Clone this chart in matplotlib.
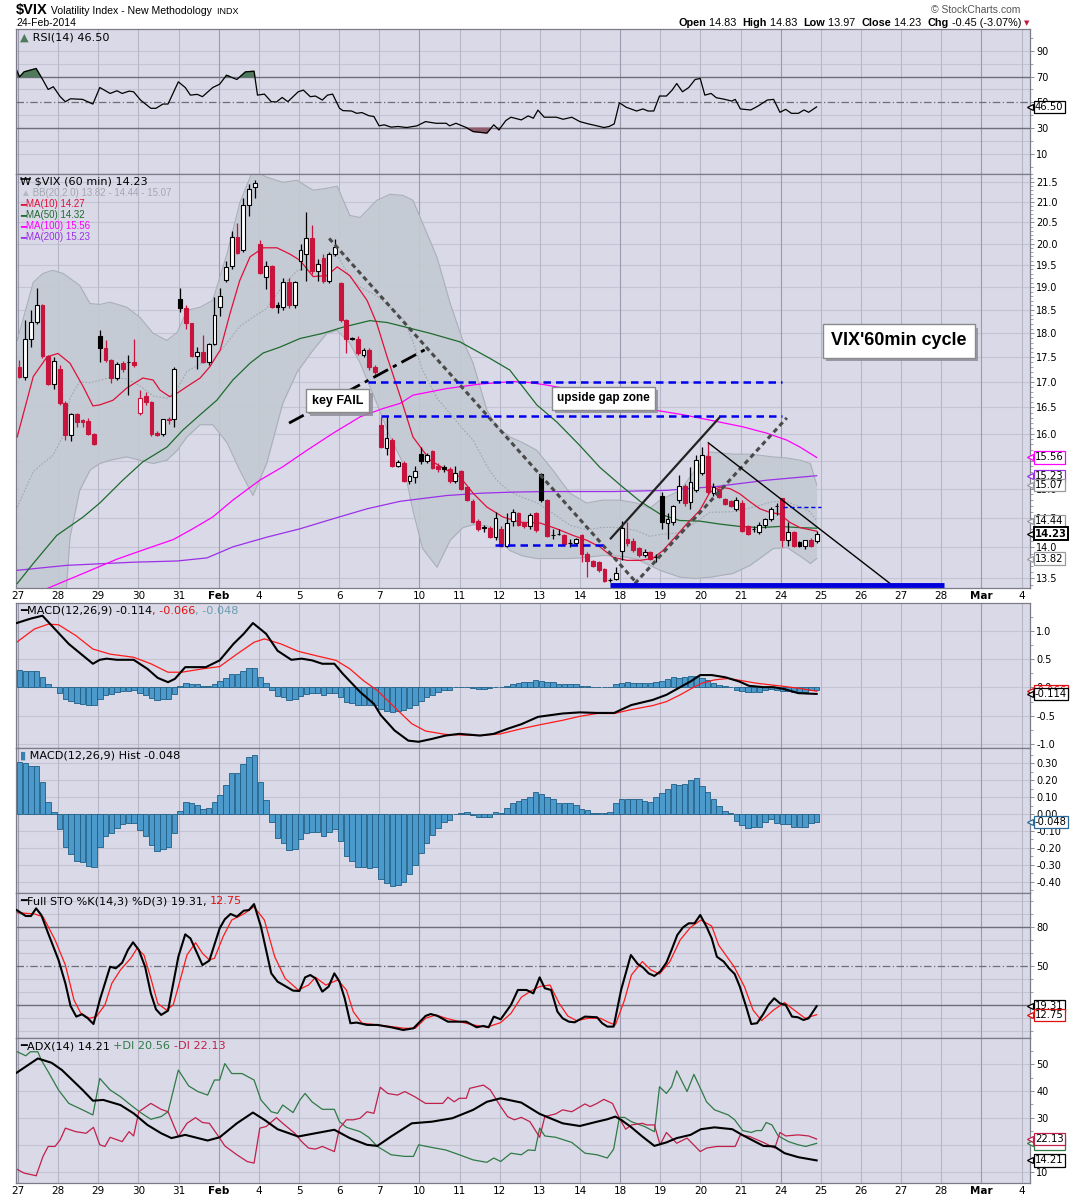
import matplotlib
matplotlib.use('Agg')
import numpy as np
import matplotlib.pyplot as plt
import matplotlib.patheffects as pe
import matplotlib.transforms as mtransforms
from matplotlib.offsetbox import TextArea, HPacker, AnnotationBbox
from matplotlib.ticker import FixedLocator, FixedFormatter, NullFormatter

plt.rcParams['font.family'] = ['DejaVu Sans']

# ---------------- data (x in hourly bars, 7 bars per session) ----------------
day_labels = ['27', '28', '29', '30', '31', 'Feb', '4', '5', '6', '7', '10', '11', '12',
              '13', '14', '18', '19', '20', '21', '24', '25', '26', '27', '28', 'Mar', '4']
week_start_days = [0, 5, 10, 15, 19, 24]

opens = [
    17.30, 17.10, 17.89, 18.24, 18.60, 17.53, 16.97,
    17.27, 16.58, 15.97, 16.38, 16.25, 16.24, 16.00,
    17.94, 17.70, 17.44, 17.09, 17.38, 17.40, 17.40,
    16.40, 16.72, 16.60, 16.02, 15.99, 16.27, 16.27,
    18.73, 18.55, 18.21, 17.53, 17.60, 17.40, 17.78,
    18.57, 19.17, 19.47, 20.16, 19.84, 20.93, 21.37,
    19.99, 19.23, 19.49, 18.60, 18.57, 19.11, 18.60,
    19.60, 19.76, 20.12, 19.36, 19.66, 19.15, 19.75,
    19.10, 18.28, 17.89, 17.89, 17.55, 17.66, 17.31,
    16.17, 15.74, 15.89, 15.41, 15.46, 15.14, 15.20,
    15.62, 15.50, 15.67, 15.40, 15.38, 15.35, 15.13,
    15.31, 15.03, 14.79, 14.45, 14.33, 14.33, 14.17,
    14.31, 14.03, 14.45, 14.58, 14.40, 14.36, 14.57,
    15.26, 14.81, 14.21, 14.22, 14.21, 14.07, 14.07,
    14.21, 13.89, 13.78, 13.76, 13.65, 13.47, 13.49,
    13.95, 14.14, 14.10, 13.99, 13.88, 13.93, 13.85,
    14.87, 14.40, 14.42, 14.80, 15.05, 14.77, 14.97,
    15.28, 15.58, 14.93, 15.00, 14.82, 14.78, 14.65,
    14.75, 14.35, 14.31, 14.25, 14.38, 14.48, 14.69,
    14.83, 14.12, 14.25, 14.09, 14.03, 14.13, 14.10,
]
highs = [
    17.44, 18.28, 18.49, 18.99, 18.64, 17.55, 17.50,
    17.35, 16.62, 16.40, 16.40, 16.28, 16.30, 16.02,
    18.06, 17.86, 17.46, 17.40, 17.42, 17.55, 17.88,
    16.85, 16.80, 16.62, 16.05, 16.28, 16.32, 17.30,
    18.99, 18.60, 18.22, 17.71, 17.97, 17.80, 18.78,
    18.99, 19.60, 20.30, 20.48, 21.10, 21.45, 21.55,
    20.09, 19.60, 19.50, 18.67, 19.20, 19.20, 19.15,
    19.99, 20.76, 20.45, 19.65, 19.75, 19.80, 20.10,
    19.12, 18.30, 17.92, 17.95, 17.70, 17.70, 17.35,
    16.32, 16.32, 15.92, 15.52, 15.50, 15.25, 15.40,
    15.76, 15.65, 15.70, 15.45, 15.42, 15.38, 15.40,
    15.33, 15.05, 14.82, 14.48, 14.38, 14.35, 14.60,
    14.35, 14.57, 14.65, 14.60, 14.42, 14.58, 14.60,
    15.27, 14.82, 14.30, 14.30, 14.23, 14.14, 14.16,
    14.22, 13.92, 13.80, 13.78, 13.66, 13.50, 13.69,
    14.45, 14.42, 14.15, 14.00, 13.98, 13.95, 13.90,
    14.95, 14.57, 14.72, 15.25, 15.08, 15.39, 15.60,
    15.75, 15.83, 15.10, 15.02, 14.84, 14.80, 14.85,
    14.80, 14.38, 14.36, 14.42, 14.50, 14.68, 14.75,
    14.83, 14.42, 14.27, 14.11, 14.13, 14.15, 14.28,
]
lows = [
    17.08, 17.05, 17.72, 18.20, 17.48, 16.95, 16.86,
    16.55, 15.88, 15.86, 16.12, 16.12, 15.98, 15.78,
    17.41, 17.40, 16.98, 17.05, 17.20, 16.75, 17.30,
    16.35, 16.55, 15.95, 15.95, 15.96, 16.18, 16.13,
    18.45, 18.10, 17.50, 17.27, 17.38, 17.35, 17.75,
    18.37, 19.12, 19.40, 19.75, 19.80, 20.65, 21.10,
    19.30, 18.95, 18.55, 18.43, 18.50, 18.55, 18.55,
    19.38, 19.15, 19.30, 19.15, 19.10, 19.10, 19.70,
    18.25, 17.58, 17.85, 17.55, 17.50, 17.25, 17.10,
    15.74, 15.60, 15.38, 15.38, 15.12, 15.08, 15.10,
    15.44, 15.45, 15.35, 15.30, 15.30, 15.10, 15.10,
    14.98, 14.78, 14.40, 14.28, 14.26, 14.15, 14.12,
    14.00, 14.00, 14.36, 14.36, 14.33, 14.30, 14.26,
    14.77, 14.18, 14.14, 14.20, 14.03, 14.00, 14.04,
    13.76, 13.52, 13.68, 13.60, 13.45, 13.44, 13.47,
    13.80, 14.02, 13.93, 13.85, 13.84, 13.79, 13.76,
    14.30, 14.14, 14.38, 14.75, 14.70, 14.65, 14.95,
    15.25, 14.90, 14.88, 14.84, 14.72, 14.68, 14.62,
    14.25, 14.20, 14.25, 14.22, 14.33, 14.45, 14.55,
    14.00, 14.03, 14.00, 14.01, 13.97, 14.01, 14.07,
]
closes = [
    17.10, 17.89, 18.24, 18.60, 17.53, 16.97, 17.43,
    16.58, 15.97, 16.38, 16.23, 16.22, 16.00, 15.80,
    17.70, 17.44, 17.09, 17.37, 17.26, 17.40, 17.35,
    16.69, 16.60, 16.00, 15.98, 16.27, 16.25, 17.27,
    18.55, 18.21, 17.53, 17.60, 17.40, 17.78, 18.40,
    18.80, 19.45, 20.15, 19.78, 20.93, 21.32, 21.46,
    19.32, 19.49, 18.57, 18.57, 19.11, 18.60, 19.11,
    19.86, 20.12, 19.36, 19.53, 19.15, 19.75, 19.93,
    18.28, 17.89, 17.89, 17.59, 17.66, 17.31, 17.21,
    15.75, 15.91, 15.41, 15.47, 15.14, 15.22, 15.31,
    15.50, 15.60, 15.37, 15.35, 15.35, 15.13, 15.27,
    15.00, 14.80, 14.42, 14.31, 14.33, 14.17, 14.50,
    14.03, 14.40, 14.60, 14.38, 14.36, 14.55, 14.29,
    14.81, 14.19, 14.21, 14.22, 14.05, 14.07, 14.14,
    13.89, 13.78, 13.70, 13.64, 13.46, 13.47, 13.59,
    14.33, 14.07, 13.96, 13.88, 13.93, 13.81, 13.84,
    14.42, 14.48, 14.70, 15.05, 14.75, 15.12, 15.51,
    15.61, 14.94, 15.03, 14.86, 14.74, 14.70, 14.80,
    14.28, 14.22, 14.31, 14.38, 14.47, 14.65, 14.69,
    14.13, 14.25, 14.03, 14.03, 14.12, 14.03, 14.23,
]

# moving averages: (bar, value)
ma10_pts = [(-0.4, 15.94), (2.4, 17.11), (4.8, 17.51), (6.7, 17.58), (8.8, 17.38), (11.1, 16.91),
            (12.8, 16.53), (14.0, 16.55), (16.3, 16.64), (18.7, 16.88), (21.5, 17.08), (23.3, 17.04),
            (24.5, 16.84), (26.2, 16.71), (27.5, 16.78), (29.2, 16.91), (31.5, 17.08), (33.2, 17.31),
            (35.0, 17.65), (36.7, 18.42), (38.4, 19.15), (40.2, 19.69), (42.5, 19.90), (44.9, 19.90),
            (47.2, 19.75), (48.9, 19.61), (51.2, 19.24), (53.6, 19.26), (55.4, 19.46), (57.6, 19.26),
            (60.6, 18.71), (62.3, 18.21), (64.1, 17.51), (66.4, 16.71), (68.6, 15.94), (71.6, 15.51),
            (74.5, 15.33), (76.8, 15.21), (79.1, 14.92), (81.5, 14.68), (84.3, 14.51), (87.3, 14.42),
            (90.7, 14.41), (93.7, 14.31), (96.5, 14.20), (98.9, 14.12), (101.2, 14.01), (103.5, 13.84),
            (105.9, 13.79), (108.2, 13.79), (110.4, 13.82), (112.2, 13.95), (114.6, 14.20), (116.4, 14.40),
            (118.6, 14.62), (120.4, 14.94), (122.1, 15.03), (123.9, 15.00), (125.6, 14.91), (127.4, 14.77),
            (129.1, 14.65), (130.8, 14.59), (132.6, 14.56), (134.3, 14.42), (136.1, 14.33), (139.0, 14.27)]
ma50_pts = [(-0.4, 13.42), (2.4, 13.74), (6.5, 14.20), (11.1, 14.51), (14.0, 14.75), (18.0, 15.15),
            (21.5, 15.48), (25.7, 15.75), (28.5, 16.07), (31.5, 16.36), (34.4, 16.64), (37.2, 17.04),
            (40.2, 17.38), (42.5, 17.59), (45.4, 17.71), (48.9, 17.89), (52.9, 18.00), (56.4, 18.13),
            (61.1, 18.27), (64.1, 18.23), (66.4, 18.16), (71.6, 18.00), (76.8, 17.82), (82.0, 17.48),
            (85.5, 17.24), (90.2, 16.55), (93.7, 16.22), (97.7, 15.78), (101.2, 15.38), (104.7, 15.07),
            (108.2, 14.78), (111.7, 14.56), (115.1, 14.45), (118.6, 14.44), (122.1, 14.39), (125.6, 14.35),
            (129.1, 14.33), (132.6, 14.35), (136.1, 14.33), (139.0, 14.32)]
ma100_pts = [(4.5, 13.33), (11.1, 13.58), (17.0, 13.81), (22.8, 14.00), (26.8, 14.13), (30.2, 14.31),
             (33.7, 14.51), (37.2, 14.80), (41.9, 15.15), (45.9, 15.39), (50.1, 15.69), (54.7, 16.01),
             (59.4, 16.32), (63.4, 16.48), (66.4, 16.58), (68.6, 16.74), (74.5, 16.87), (80.3, 16.96),
             (86.0, 17.01), (89.0, 16.99), (91.9, 16.94), (97.7, 16.82), (103.5, 16.62), (109.6, 16.47),
             (115.7, 16.36), (121.6, 16.23), (126.1, 16.13), (130.3, 16.01), (133.8, 15.88), (136.1, 15.75),
             (139.0, 15.56)]
ma200_pts = [(-0.4, 13.63), (8.3, 13.71), (19.8, 13.76), (27.5, 13.78), (32.7, 13.83), (37.2, 14.01),
             (43.1, 14.17), (48.9, 14.31), (54.7, 14.48), (60.6, 14.65), (66.4, 14.78), (74.5, 14.88),
             (80.3, 14.92), (86.0, 14.94), (91.9, 14.95), (103.5, 14.95), (112.8, 14.97), (121.6, 15.04),
             (130.3, 15.15), (139.0, 15.23)]

# Bollinger bands (20, 2.0)
bb_x = [-0.4, 2.4, 4.1, 5.8, 7.6, 8.8, 10.5, 12.3, 14.0, 15.8,
        18.7, 21.0, 23.3, 25.7, 27.5, 29.2, 31.5, 33.7, 36.2, 38.4,
        40.7, 43.1, 45.9, 48.4, 51.2, 53.6, 55.4, 57.6, 59.4, 62.3,
        64.6, 66.9, 68.6, 70.3, 72.8, 75.1, 77.3, 79.1, 81.5, 83.2,
        85.5, 87.8, 90.2, 93.0, 96.0, 98.9, 101.7, 104.7, 107.6, 109.9,
        111.7, 115.2, 117.8, 120.4, 124.4, 127.4, 131.4, 133.8, 136.1, 137.9,
        139.0]
bb_upper = [17.85, 19.11, 19.31, 19.38, 19.31, 19.20, 19.04, 18.64, 18.62, 18.67,
            18.56, 18.34, 18.00, 17.85, 18.02, 18.49, 18.56, 18.71, 19.77, 20.97,
            21.80, 21.62, 21.49, 21.54, 21.29, 21.34, 21.39, 20.67, 20.62, 21.04,
            21.19, 21.16, 21.04, 20.48, 19.68, 18.64, 17.85, 17.38, 16.45, 16.13,
            15.94, 15.83, 15.69, 15.33, 14.92, 14.75, 14.80, 14.80, 14.75, 14.66,
            14.80, 14.97, 15.33, 15.66, 15.62, 15.62, 15.57, 15.55, 15.51, 15.45,
            15.07]
bb_lower = [11.50, 11.50, 11.60, 11.80, 12.60, 14.17, 14.97, 15.33, 15.45, 15.51,
            15.57, 15.51, 15.45, 15.51, 15.69, 15.94, 16.17, 16.17, 15.83, 15.33,
            14.88, 15.45, 16.58, 17.20, 17.65, 18.00, 18.06, 17.79, 17.38, 16.58,
            15.94, 15.45, 14.62, 13.98, 13.68, 14.12, 14.33, 14.38, 14.36, 14.17,
            13.95, 13.86, 13.82, 13.82, 13.82, 13.84, 13.87, 13.86, 13.81, 13.71,
            13.63, 13.52, 13.50, 13.52, 13.58, 13.71, 13.98, 14.00, 13.86, 13.74,
            13.82]

rsi_pts = [(-0.5, 74.9), (0.0, 69.7), (0.8, 73.6), (2.9, 76.2), (4.1, 67.2), (5.0, 60.0), (5.9, 62.1),
           (7.1, 54.4), (8.0, 50.5), (8.9, 52.8), (11.0, 52.3), (12.8, 48.7), (14.0, 61.5), (15.8, 56.9),
           (17.0, 59.0), (17.9, 56.9), (19.1, 58.7), (19.9, 58.2), (21.1, 51.8), (22.9, 45.4), (23.8, 45.4),
           (25.0, 48.7), (25.9, 48.7), (27.7, 65.9), (28.9, 61.5), (29.8, 55.6), (31.0, 56.2), (31.9, 54.4),
           (33.7, 61.5), (34.9, 64.1), (36.1, 71.0), (37.9, 67.7), (39.4, 73.6), (40.9, 74.1), (41.5, 55.6),
           (42.7, 56.4), (43.9, 50.5), (44.8, 50.3), (45.8, 53.8), (46.8, 50.5), (47.7, 54.4), (48.6, 58.2),
           (49.5, 59.5), (50.7, 54.4), (51.6, 54.9), (52.8, 51.8), (53.7, 55.6), (54.6, 56.4), (55.8, 45.4),
           (56.4, 43.6), (57.9, 43.3), (58.8, 41.5), (59.7, 42.1), (60.9, 39.7), (61.8, 39.0), (62.7, 31.8),
           (63.6, 32.6), (64.8, 30.8), (66.0, 31.3), (67.5, 30.5), (69.3, 31.8), (70.8, 35.1), (72.6, 33.8),
           (74.4, 33.8), (75.0, 31.8), (76.1, 33.8), (77.9, 30.5), (79.1, 27.4), (81.5, 26.2), (82.7, 32.6),
           (83.6, 28.7), (84.8, 35.9), (85.7, 38.5), (87.5, 36.4), (88.7, 39.5), (89.6, 37.7), (90.4, 44.0),
           (91.5, 38.5), (93.6, 38.5), (94.8, 36.9), (96.3, 38.5), (97.7, 35.1), (99.2, 33.3), (100.7, 31.8),
           (101.9, 30.5), (102.8, 31.3), (103.7, 33.3), (104.6, 49.7), (105.8, 46.2), (107.6, 43.3),
           (108.7, 44.9), (109.6, 43.3), (110.6, 43.3), (111.6, 54.9), (112.8, 54.9), (113.8, 59.5),
           (114.6, 64.6), (115.6, 58.2), (116.7, 61.5), (117.8, 67.7), (118.7, 68.5), (119.5, 55.6),
           (120.6, 56.9), (121.5, 53.6), (122.7, 52.6), (124.2, 51.0), (124.8, 52.3), (125.7, 44.9),
           (127.5, 44.1), (128.8, 47.2), (130.4, 51.8), (131.5, 52.3), (132.6, 42.3), (133.6, 44.6),
           (134.6, 41.5), (135.8, 41.5), (136.8, 44.1), (137.6, 42.3), (139.0, 46.5)]

macd_pts = [(-0.5, 1.14), (2.0, 1.22), (4.0, 1.27), (8.6, 0.77), (12.8, 0.42), (14.0, 0.49), (15.2, 0.51),
            (17.0, 0.49), (19.9, 0.49), (22.3, 0.33), (24.1, 0.17), (25.9, 0.094), (27.1, 0.153),
            (28.9, 0.36), (32.5, 0.36), (34.9, 0.48), (37.3, 0.77), (39.1, 0.95), (40.7, 1.14), (43.0, 0.95),
            (45.0, 0.65), (47.4, 0.49), (49.2, 0.51), (51.0, 0.48), (52.8, 0.42), (54.9, 0.42), (56.4, 0.24),
            (59.4, -0.08), (61.8, -0.29), (63.0, -0.49), (65.4, -0.76), (67.8, -0.94), (69.6, -0.96),
            (71.9, -0.91), (74.3, -0.85), (76.7, -0.82), (80.3, -0.85), (82.7, -0.82), (85.1, -0.73),
            (87.5, -0.65), (90.4, -0.52), (94.7, -0.46), (97.7, -0.44), (100.7, -0.45), (103.7, -0.45),
            (105.5, -0.365), (106.7, -0.31), (110.4, -0.22), (112.8, -0.13), (115.2, 0.006), (117.0, 0.106),
            (118.7, 0.22), (120.7, 0.22), (123.1, 0.18), (125.5, 0.106), (127.2, 0.03), (129.7, 0.006),
            (131.5, 0.006), (133.4, -0.03), (135.8, -0.10), (139.0, -0.114)]
signal_pts = [(-0.5, 0.80), (2.6, 1.035), (5.0, 1.12), (6.8, 1.11), (9.8, 0.92), (12.8, 0.68), (15.8, 0.59),
              (19.9, 0.535), (22.9, 0.42), (25.9, 0.27), (28.3, 0.27), (31.9, 0.33), (34.9, 0.37),
              (37.9, 0.59), (40.9, 0.80), (42.7, 0.86), (45.6, 0.77), (48.6, 0.64), (51.6, 0.565),
              (55.2, 0.48), (57.6, 0.33), (60.0, 0.12), (62.4, -0.053), (65.4, -0.35), (68.4, -0.64),
              (70.8, -0.77), (74.3, -0.83), (80.3, -0.85), (83.9, -0.82), (87.5, -0.73), (90.7, -0.66),
              (94.7, -0.58), (97.7, -0.51), (100.7, -0.46), (103.7, -0.46), (106.7, -0.39), (110.4, -0.32),
              (112.8, -0.25), (115.2, -0.13), (117.6, 0.006), (119.0, 0.076), (121.2, 0.135), (123.6, 0.16),
              (126.0, 0.12), (128.5, 0.076), (130.9, 0.047), (133.4, 0.018), (135.8, -0.012), (139.0, -0.066)]
hist = [
    0.306, 0.300, 0.286, 0.286, 0.187, 0.069, 0.010, -0.091, -0.197, -0.239,
    -0.276, -0.286, -0.306, -0.312, -0.197, -0.130, -0.110, -0.085, -0.059, -0.055,
    -0.051, -0.095, -0.130, -0.183, -0.217, -0.209, -0.197, -0.114, 0.018, 0.073,
    0.063, 0.053, 0.030, 0.034, 0.069, 0.112, 0.172, 0.241, 0.241, 0.296,
    0.339, 0.349, 0.187, 0.083, -0.049, -0.144, -0.170, -0.213, -0.209, -0.150,
    -0.114, -0.105, -0.105, -0.128, -0.105, -0.091, -0.160, -0.249, -0.278, -0.316,
    -0.316, -0.318, -0.312, -0.387, -0.410, -0.426, -0.420, -0.400, -0.355, -0.302,
    -0.233, -0.174, -0.124, -0.085, -0.049, -0.036, 0.000, 0.008, 0.010, -0.006,
    -0.020, -0.020, -0.016, 0.010, 0.004, 0.034, 0.067, 0.077, 0.089, 0.103,
    0.132, 0.116, 0.103, 0.089, 0.067, 0.067, 0.067, 0.053, 0.028, 0.024,
    0.008, 0.004, 0.004, 0.010, 0.063, 0.087, 0.089, 0.087, 0.087, 0.079,
    0.073, 0.103, 0.122, 0.146, 0.178, 0.172, 0.178, 0.201, 0.211, 0.166,
    0.132, 0.087, 0.049, 0.020, 0.004, -0.039, -0.065, -0.085, -0.079, -0.075,
    -0.045, -0.032, -0.051, -0.059, -0.059, -0.079, -0.075, -0.075, -0.051, -0.048,
]

stok_pts = [(-0.5, 93.3), (1.1, 88.7), (2.0, 88.7), (2.9, 94.6), (3.8, 89.5), (5.0, 75.4), (6.8, 54.9),
            (8.0, 36.9), (8.9, 19.5), (9.9, 11.3), (10.9, 13.1), (11.9, 10.0), (12.9, 5.6), (14.0, 24.1),
            (15.8, 49.7), (16.8, 48.5), (17.9, 52.8), (18.9, 62.6), (19.8, 68.5), (20.8, 62.6), (21.9, 49.7),
            (22.9, 29.2), (23.8, 16.9), (24.7, 12.6), (25.9, 15.9), (27.7, 57.4), (28.9, 74.6), (29.8, 71.5),
            (31.9, 51.0), (33.1, 54.4), (34.9, 79.2), (35.8, 86.2), (36.8, 90.3), (37.9, 88.2), (39.1, 92.8),
            (40.0, 93.3), (40.9, 97.9), (42.1, 80.5), (43.9, 44.6), (45.0, 38.2), (46.3, 34.9), (47.7, 31.3),
            (48.8, 31.0), (49.8, 41.5), (50.7, 43.3), (51.6, 40.8), (52.8, 30.5), (53.9, 34.4), (54.9, 44.6),
            (55.8, 38.2), (56.7, 25.4), (57.7, 6.2), (58.8, 6.7), (60.6, 4.9), (62.4, 4.9), (64.8, 3.1),
            (66.9, 1.0), (68.7, 2.3), (70.8, 11.8), (71.7, 13.3), (72.9, 11.8), (74.7, 7.4), (75.8, 7.4),
            (77.9, 7.4), (79.7, 3.1), (80.9, 4.1), (81.8, 3.1), (82.7, 11.3), (83.9, 9.2), (85.7, 20.3),
            (86.9, 31.8), (88.4, 31.8), (89.6, 29.2), (90.7, 41.5), (91.6, 33.1), (92.7, 31.8), (93.8, 15.1),
            (94.7, 10.0), (95.8, 7.4), (96.8, 6.9), (98.6, 11.3), (100.7, 10.8), (101.6, 6.2), (102.5, 3.6),
            (103.6, 3.6), (104.9, 31.8), (106.6, 58.7), (107.8, 51.8), (108.7, 49.2), (109.7, 44.6),
            (110.7, 42.6), (111.7, 45.9), (112.8, 52.8), (113.7, 62.6), (114.7, 74.1), (115.7, 80.0),
            (116.7, 83.1), (117.7, 83.1), (118.7, 89.5), (119.8, 80.5), (120.7, 71.5), (121.6, 57.4),
            (122.8, 53.6), (123.7, 48.5), (124.7, 44.1), (125.6, 34.4), (126.7, 19.0), (127.6, 5.6),
            (128.6, 6.2), (129.7, 13.3), (130.6, 20.3), (131.6, 25.4), (132.6, 21.5), (133.6, 20.3),
            (134.7, 11.3), (135.7, 10.8), (136.7, 8.7), (137.6, 10.0), (139.0, 19.31)]
stod_pts = [(-0.5, 91.3), (2.6, 90.3), (4.1, 88.2), (6.2, 70.3), (8.0, 51.0), (9.5, 24.1), (10.7, 13.8),
            (12.2, 10.0), (13.4, 11.3), (14.9, 20.3), (16.1, 36.9), (17.6, 47.2), (19.4, 56.2), (20.5, 63.8),
            (21.7, 58.7), (22.9, 40.8), (24.1, 21.5), (25.6, 16.4), (26.8, 20.3), (27.7, 34.4), (29.2, 58.7),
            (30.7, 68.2), (31.9, 60.0), (33.1, 54.9), (34.0, 56.2), (35.5, 72.8), (37.0, 85.6), (39.1, 90.3),
            (40.9, 95.9), (42.7, 85.6), (44.5, 57.4), (46.3, 40.8), (48.6, 31.8), (50.4, 35.6), (51.6, 41.5),
            (53.4, 35.6), (55.5, 39.5), (57.0, 31.8), (58.2, 15.1), (59.7, 6.2), (62.4, 4.9), (64.8, 3.6),
            (67.2, 2.3), (69.0, 2.3), (70.8, 10.0), (72.6, 12.6), (74.4, 10.0), (76.7, 7.4), (79.1, 4.9),
            (81.5, 3.1), (83.9, 6.7), (85.7, 13.8), (87.5, 26.2), (89.3, 31.3), (90.7, 34.4), (92.5, 35.6),
            (94.1, 21.5), (95.6, 11.8), (97.1, 8.2), (99.2, 10.0), (101.3, 10.0), (102.8, 6.7), (103.9, 4.9),
            (105.5, 24.1), (106.7, 43.3), (108.6, 53.6), (110.1, 47.2), (111.6, 44.1), (113.4, 53.6),
            (115.2, 70.3), (117.0, 80.0), (118.8, 85.6), (120.7, 81.0), (121.9, 66.4), (124.6, 49.7),
            (126.4, 34.4), (127.9, 16.4), (129.4, 8.2), (131.5, 16.4), (133.4, 22.1), (135.2, 15.9),
            (137.0, 10.0), (139.0, 12.75)]

adx_pts = [(-0.5, 46.8), (3.2, 52.1), (5.6, 50.5), (7.4, 47.8), (9.2, 44.1), (11.0, 40.4), (12.8, 36.4),
           (14.6, 36.7), (17.6, 34.8), (19.9, 31.7), (22.3, 27.4), (24.7, 24.3), (26.5, 22.5), (28.9, 23.7),
           (32.8, 21.6), (34.9, 22.8), (37.9, 28.0), (40.7, 32.0), (42.7, 29.3), (45.0, 25.8), (48.6, 23.1),
           (51.6, 24.3), (54.9, 25.6), (57.6, 22.5), (60.6, 20.0), (62.4, 19.6), (64.8, 23.1), (68.4, 28.0),
           (71.9, 28.6), (75.5, 29.9), (79.1, 33.0), (81.5, 36.0), (83.9, 37.3), (87.5, 35.7), (90.7, 31.5),
           (94.7, 28.0), (97.7, 27.0), (100.7, 28.6), (102.5, 29.5), (103.9, 30.5), (104.9, 29.3),
           (106.7, 26.5), (108.6, 23.1), (110.7, 19.6), (112.8, 20.9), (114.6, 22.5), (117.0, 23.7),
           (118.8, 25.8), (121.2, 26.5), (124.3, 25.8), (126.0, 23.7), (129.7, 19.6), (131.6, 19.4),
           (133.4, 16.9), (135.8, 15.4), (139.0, 14.21)]
pdi_pts = [(-0.4, 54.6), (1.1, 53.1), (1.9, 54.6), (3.2, 54.6), (3.8, 51.5), (5.0, 47.2), (6.8, 40.4),
           (8.6, 35.4), (11.0, 33.0), (12.8, 31.1), (14.0, 44.7), (15.8, 40.4), (17.6, 37.9), (19.4, 34.8),
           (21.1, 32.0), (22.9, 29.5), (24.7, 30.5), (25.9, 32.3), (27.7, 47.8), (29.5, 41.9), (31.1, 39.8),
           (32.8, 38.5), (34.0, 44.1), (34.9, 44.1), (35.8, 50.2), (37.0, 46.5), (38.8, 46.5), (40.9, 44.1),
           (42.1, 36.7), (43.9, 32.3), (45.0, 31.7), (45.9, 34.8), (47.7, 32.0), (48.9, 36.7), (49.8, 39.1),
           (51.0, 36.0), (52.8, 33.2), (54.9, 33.2), (55.8, 28.6), (57.0, 26.5), (59.4, 24.9), (60.9, 22.8),
           (62.4, 19.4), (64.8, 16.3), (67.2, 15.7), (68.7, 15.7), (69.6, 20.0), (71.7, 19.1), (74.3, 18.1),
           (76.7, 16.3), (79.1, 14.4), (81.5, 13.5), (82.7, 15.1), (83.9, 13.8), (85.7, 16.9), (87.5, 16.3),
           (88.7, 18.1), (89.9, 17.9), (90.7, 26.2), (91.6, 23.3), (93.5, 22.8), (96.3, 20.9), (98.6, 16.9),
           (100.7, 16.3), (102.5, 15.1), (103.6, 18.4), (104.6, 30.2), (105.5, 30.2), (106.7, 28.6),
           (109.0, 26.8), (110.7, 24.9), (111.6, 41.6), (112.8, 39.1), (113.7, 41.6), (114.6, 47.5),
           (116.4, 39.8), (117.6, 46.2), (119.8, 36.0), (121.2, 33.0), (123.6, 31.1), (124.7, 29.3),
           (126.1, 25.3), (127.6, 24.6), (128.5, 25.3), (129.4, 25.3), (130.2, 28.3), (131.2, 27.4),
           (132.3, 23.3), (134.1, 21.2), (135.8, 20.0), (137.1, 19.4), (139.0, 20.56)]
mdi_pts = [(-0.5, 11.0), (0.8, 9.5), (2.9, 8.5), (4.1, 15.7), (5.0, 19.4), (6.2, 19.4), (7.1, 21.9),
           (8.0, 26.2), (9.8, 24.9), (11.6, 24.3), (12.9, 26.5), (14.0, 20.0), (14.9, 19.4), (15.8, 22.8),
           (17.9, 21.2), (19.1, 24.9), (19.9, 23.3), (20.8, 32.3), (22.9, 35.4), (24.7, 33.2), (25.9, 32.3),
           (27.7, 23.1), (29.2, 28.0), (30.7, 30.1), (31.9, 28.3), (33.1, 28.0), (34.9, 22.5), (35.8, 19.6),
           (37.9, 16.3), (39.7, 13.8), (40.9, 13.2), (41.9, 26.2), (43.0, 26.8), (44.8, 30.1), (45.9, 28.0),
           (48.0, 24.3), (49.2, 21.2), (50.4, 18.8), (51.6, 18.4), (52.8, 19.4), (54.9, 17.5), (55.8, 26.2),
           (57.0, 29.3), (58.2, 29.3), (59.4, 29.9), (60.6, 32.3), (61.8, 31.7), (62.9, 41.4), (64.2, 39.1),
           (65.9, 38.5), (67.2, 39.8), (68.9, 37.9), (70.8, 35.4), (72.6, 35.4), (73.8, 35.4), (74.7, 37.7),
           (75.8, 36.0), (76.7, 37.3), (77.9, 37.3), (78.5, 41.0), (80.9, 42.2), (82.1, 40.4), (83.9, 34.2),
           (85.1, 30.5), (86.3, 29.3), (87.5, 30.2), (89.0, 28.6), (90.7, 22.8), (91.6, 30.5), (93.5, 31.5),
           (94.7, 33.0), (96.3, 32.3), (98.6, 35.2), (99.5, 34.2), (100.7, 35.4), (101.9, 36.9),
           (103.4, 35.4), (104.6, 29.9), (105.7, 25.8), (106.7, 27.4), (108.6, 28.0), (109.4, 27.4),
           (110.7, 27.4), (111.7, 20.0), (112.8, 24.6), (114.6, 20.6), (116.4, 22.5), (118.7, 17.5),
           (119.8, 18.8), (121.6, 19.4), (122.8, 19.4), (124.8, 19.4), (125.7, 23.7), (127.3, 23.1),
           (129.7, 20.9), (131.7, 18.8), (132.6, 24.6), (133.6, 23.3), (135.8, 23.7), (137.6, 23.3),
           (139.0, 22.13)]

# hand-drawn annotations: ((bar, price), (bar, price))
key_fail_line = [(47.0, 16.20), (71.2, 17.69)]
down_channel = [(54.0, 20.12), (107.7, 13.42)]
up_channel_dotted = [(107.3, 13.42), (133.8, 16.30)]
up_channel_solid = [(103.1, 14.15), (122.0, 16.30)]
down_trend_thin = [(120.1, 15.83), (152.1, 13.40)]
gap_top = (60.8, 132.9, 17.00)
gap_bottom = (63.0, 132.9, 16.33)
support_dash = (82.9, 101.9, 14.04)
floor_line = (102.9, 161.2, 13.40)
small_dash = (133.1, 139.7, 14.68)

# ---------------- styling ----------------
BG = '#D9D9E7'
GRID = '#C4C4D4'
DAYLINE = '#B6B6C9'
WEEKLINE = '#9B9BAF'
SPINE = '#7C7C88'
RED = '#C8143C'
LEVEL = '#6E6E7A'
C_MA10 = '#E0103A'
C_MA50 = '#1E6B2E'
C_MA100 = '#FF00FF'
C_MA200 = '#9B30E8'
C_PDI = '#2F7A45'
C_MDI = '#C0204A'
TITLE_FS = 8.1
SUB_FS = 7.0
SUB_FAMILY = ['Liberation Sans', 'DejaVu Sans']

fig = plt.figure(figsize=(10.75, 12), dpi=100)
fig.patch.set_facecolor('white')
XMIN, XMAX = -0.61, 176.2
day_pos = [7 * d - 0.26 for d in range(len(day_labels))]


def panel(top, bottom):
    return fig.add_axes([16 / 1075, 1 - bottom / 1200, 1014 / 1075, (bottom - top) / 1200])


def style(ax, ylim, ticks, labels, grid, minor, log=False):
    ax.set_facecolor(BG)
    if log:
        ax.set_yscale('log')
    ax.set_xlim(XMIN, XMAX)
    ax.set_ylim(*ylim)
    for d, xp in enumerate(day_pos):
        ax.axvline(xp, color=WEEKLINE if d in week_start_days else DAYLINE, lw=0.8, zorder=0.5)
    for g in grid:
        ax.axhline(g, color=GRID, lw=0.8, zorder=0.4)
    ax.yaxis.tick_right()
    ax.yaxis.set_major_locator(FixedLocator(ticks))
    ax.yaxis.set_major_formatter(FixedFormatter(labels))
    ax.yaxis.set_minor_locator(FixedLocator(minor))
    ax.yaxis.set_minor_formatter(NullFormatter())
    ax.tick_params(axis='y', which='major', direction='out', length=3, width=0.6, color=SPINE,
                   labelsize=7, pad=1.5)
    ax.tick_params(axis='y', which='minor', direction='out', length=1.8, width=0.5, color=SPINE)
    ax.set_xticks(day_pos)
    ax.set_xticklabels([])
    ax.tick_params(axis='x', length=0)
    for s in ax.spines.values():
        s.set_color(SPINE)
        s.set_linewidth(0.9)


def day_axis(ax):
    ax.set_xticklabels(day_labels, fontsize=7.5)
    ax.tick_params(axis='x', pad=2)
    for t in ax.get_xticklabels():
        if t.get_text() in ('Feb', 'Mar'):
            t.set_fontweight('bold')


def xy(pts):
    return [p[0] for p in pts], [p[1] for p in pts]


def text_row(parent, parts, xy_, coords, align=(0, 0.5), offset=(0, 0)):
    kids = [TextArea(t, textprops=dict(color=c, fontsize=fs, fontweight=fw, family=fam))
            for t, c, fs, fw, fam in parts]
    pack = HPacker(children=kids, align='baseline', pad=0, sep=0)
    ab = AnnotationBbox(pack, xy_, xycoords=coords, xybox=offset, boxcoords='offset pixels',
                        box_alignment=align, frameon=False, pad=0, annotation_clip=False)
    parent.add_artist(ab)


def legend(ax, rows):
    for k, row in enumerate(rows):
        if k == 0:
            parts = [(t, c, TITLE_FS, 'normal', 'DejaVu Sans') for t, c in row]
        else:
            parts = [(t, c, SUB_FS, 'normal', SUB_FAMILY) for t, c in row]
        text_row(ax, parts, (0, 1), 'axes fraction', align=(0, 0.5), offset=(4, -8 - 11 * k))


def tag(ax, y, text, ec, color='black', weight='normal'):
    ax.annotate(text, xy=(1, y), xycoords=('axes fraction', 'data'), xytext=(5, 0),
                textcoords='offset pixels', ha='left', va='center', fontsize=7.2, color=color,
                fontweight=weight, annotation_clip=False, zorder=10,
                bbox=dict(boxstyle='square,pad=0.12', fc='white', ec=ec,
                          lw=1.4 if weight == 'bold' else 0.9))
    tr = mtransforms.blended_transform_factory(ax.transAxes, ax.transData)
    ax.plot([1.0], [y], marker='<', ms=4.5, mfc='white', mec=ec, mew=0.9, transform=tr,
            clip_on=False, zorder=11)


ax_rsi = panel(29.3, 174)
ax_px = panel(174, 588)
ax_macd = panel(602.7, 747.7)
ax_hist = panel(747.7, 893.3)
ax_sto = panel(893.3, 1038.3)
ax_adx = panel(1038.3, 1183.3)

# ---- RSI ----
style(ax_rsi, (-5.5, 106.6), [90, 70, 50, 30, 10], ['90', '70', '50', '30', '10'],
      [10, 20, 40, 60, 80, 90], [0, 20, 40, 60, 80, 100])
ax_rsi.axhline(70, color=LEVEL, lw=1.0, zorder=0.6)
ax_rsi.axhline(30, color=LEVEL, lw=1.0, zorder=0.6)
ax_rsi.axhline(50, color=LEVEL, lw=0.9, ls=(0, (6, 2, 1, 2)), zorder=0.6)
rx, ry = xy(rsi_pts)
ax_rsi.fill_between(rx, ry, 70, where=[v > 70 for v in ry], interpolate=True, color='#4F7A5B', zorder=1)
ax_rsi.fill_between(rx, ry, 30, where=[v < 30 for v in ry], interpolate=True, color='#8E5C6C', zorder=1)
ax_rsi.plot(rx, ry, color='black', lw=0.9, zorder=2)
legend(ax_rsi, [[('▲', '#4F7A5B'), (' RSI(14) 46.50', 'black')]])
tag(ax_rsi, 46.5, '46.50', 'black')

# ---- price ----
price_ticks = [13.5 + 0.5 * k for k in range(17)]
price_minor = [13.4 + 0.1 * k for k in range(84)]
style(ax_px, (13.35, 21.70), price_ticks, ['%.1f' % t for t in price_ticks], price_ticks,
      price_minor, log=True)
ax_px.fill_between(bb_x, bb_lower, bb_upper, color='#C3CAD2', alpha=0.9, lw=0, zorder=1)
ax_px.plot(bb_x, bb_upper, color='#A9B0B9', lw=0.8, zorder=1.1)
ax_px.plot(bb_x, bb_lower, color='#A9B0B9', lw=0.8, zorder=1.1)
bb_mid = [(u + l) / 2 for u, l in zip(bb_upper, bb_lower)]
ax_px.plot(bb_x, bb_mid, color='#9EA6AF', lw=0.8, ls=(0, (1.5, 1.5)), zorder=1.2)
for pts, col in ((ma200_pts, C_MA200), (ma100_pts, C_MA100), (ma50_pts, C_MA50), (ma10_pts, C_MA10)):
    mx, my = xy(pts)
    ax_px.plot(mx, my, color=col, lw=0.9, zorder=3)

for i, (o, h, l, c) in enumerate(zip(opens, highs, lows, closes)):
    col = 'black' if (i > 0 and c >= closes[i - 1]) else RED
    face = 'white' if c > o else col
    ax_px.vlines(i, l, h, color=col, lw=0.9, zorder=4)
    ax_px.bar(i, max(abs(c - o), 0.004), bottom=min(o, c), width=0.66, color=face,
              edgecolor=col, lw=0.8, zorder=5)

# drawn annotations
lx, ly = xy(key_fail_line)
ax_px.plot(lx, ly, color='black', lw=2.0, ls=(0, (6, 2, 1.5, 2)), zorder=6)
for seg in (down_channel, up_channel_dotted):
    sx, sy = xy(seg)
    ax_px.plot(sx, sy, color='#4A4A4A', lw=2.2, ls=(0, (1.6, 1.2)), zorder=6)
sx, sy = xy(up_channel_solid)
ax_px.plot(sx, sy, color='#222222', lw=1.6, zorder=6)
sx, sy = xy(down_trend_thin)
ax_px.plot(sx, sy, color='black', lw=1.0, zorder=6)
for x0, x1, yv in (gap_top, gap_bottom, support_dash):
    ax_px.hlines(yv, x0, x1, color='#0000EE', lw=1.8, ls=(0, (3, 2)), zorder=6)
ax_px.hlines(small_dash[2], small_dash[0], small_dash[1], color='#0000EE', lw=1.0, ls=(0, (3, 2)), zorder=6)
ax_px.hlines(floor_line[2], floor_line[0], floor_line[1], color='#0000DD', lw=3.5, zorder=6)

shadow = [pe.SimplePatchShadow(offset=(2.5, -2.5), shadow_rgbFace='#8A8A95', alpha=0.8), pe.Normal()]
for txt, bx, by, fs in (("key FAIL", 55.5, 16.63, 9),
                        ("upside gap zone", 101.8, 16.68, 8.5),
                        ("VIX'60min cycle", 153.3, 17.84, 13)):
    t = ax_px.text(bx, by, txt, ha='center', va='center', fontsize=fs, fontweight='bold',
                   family='Liberation Sans', zorder=8,
                   bbox=dict(boxstyle='square,pad=0.45', fc='white', ec='#8A8A8A', lw=1.0))
    t.get_bbox_patch().set_path_effects(shadow)

legend(ax_px, [[('₩', 'black'), (' $VIX (60 min) 14.23', 'black')],
               [('▲', '#B4B8C0'), (' BB(20,2.0) 13.82 - 14.44 - 15.07', '#A4A8B0')],
               [('━', C_MA10), ('MA(10) 14.27', C_MA10)],
               [('━', C_MA50), ('MA(50) 14.32', C_MA50)],
               [('━', C_MA100), ('MA(100) 15.56', C_MA100)],
               [('━', C_MA200), ('MA(200) 15.23', C_MA200)]])
tag(ax_px, 15.56, '15.56', C_MA100)
tag(ax_px, 15.23, '15.23', C_MA200)
tag(ax_px, 15.07, '15.07', '#9A9AA0')
tag(ax_px, 14.44, '14.44', '#9A9AA0')
tag(ax_px, 13.82, '13.82', '#9A9AA0')
tag(ax_px, 14.23, '14.23', 'black', weight='bold')
day_axis(ax_px)

# ---- MACD ----
style(ax_macd, (-1.065, 1.50), [1.0, 0.5, 0.0, -0.5, -1.0], ['1.0', '0.5', '0.0', '-0.5', '-1.0'],
      [1.0, 0.5, 0.0, -0.5, -1.0], [1.25, 0.75, 0.25, -0.25, -0.75])
bars_x = list(range(len(hist)))
ax_macd.bar(bars_x, hist, width=0.95, color='#4C9ACB', edgecolor='#1F5F86', lw=0.6, zorder=1)
mx, my = xy(signal_pts)
ax_macd.plot(mx, my, color='#FF1A1A', lw=0.9, zorder=2)
mx, my = xy(macd_pts)
ax_macd.plot(mx, my, color='black', lw=1.5, zorder=3)
text_row(ax_macd, [('━', 'black', TITLE_FS, 'normal', 'DejaVu Sans'),
                   ('MACD(12,26,9) -0.114', 'black', TITLE_FS, 'normal', 'DejaVu Sans'),
                   (', -0.066', '#E01010', TITLE_FS, 'normal', 'DejaVu Sans'),
                   (', -0.048', '#6A9BB0', TITLE_FS, 'normal', 'DejaVu Sans')],
         (0, 1), 'axes fraction', offset=(4, -8))
tag(ax_macd, -0.066, '-0.066', '#E01010', color='#E01010')
tag(ax_macd, -0.114, '-0.114', 'black')

# ---- histogram ----
hist_ticks = [0.3, 0.2, 0.1, 0.0, -0.1, -0.2, -0.3, -0.4]
style(ax_hist, (-0.469, 0.392), hist_ticks, ['%.2f' % t for t in hist_ticks], hist_ticks,
      [0.35, 0.25, 0.15, 0.05, -0.05, -0.15, -0.25, -0.35, -0.45])
ax_hist.bar(bars_x, hist, width=0.95, color='#4C9ACB', edgecolor='#1F5F86', lw=0.6, zorder=1)
legend(ax_hist, [[('▮', '#3A7FB0'), (' MACD(12,26,9) Hist -0.048', 'black')]])
tag(ax_hist, -0.048, '-0.048', '#2A6A9A')

# ---- stochastics ----
style(ax_sto, (-5.4, 106.2), [80, 50, 20], ['80', '50', '20'], [0, 10, 30, 40, 60, 70, 90, 100],
      [0, 10, 30, 40, 60, 70, 90, 100])
ax_sto.axhline(80, color=LEVEL, lw=1.0, zorder=0.6)
ax_sto.axhline(20, color=LEVEL, lw=1.0, zorder=0.6)
ax_sto.axhline(50, color=LEVEL, lw=0.9, ls=(0, (6, 2, 1, 2)), zorder=0.6)
sx, sy = xy(stod_pts)
ax_sto.plot(sx, sy, color='#FF1A1A', lw=0.9, zorder=2)
sx, sy = xy(stok_pts)
ax_sto.plot(sx, sy, color='black', lw=1.5, zorder=3)
text_row(ax_sto, [('━', 'black', TITLE_FS, 'normal', 'DejaVu Sans'),
                  ('Full STO %K(14,3) %D(3) 19.31, ', 'black', TITLE_FS, 'normal', 'DejaVu Sans'),
                  ('12.75', '#E01010', TITLE_FS, 'normal', 'DejaVu Sans')],
         (0, 1), 'axes fraction', offset=(4, -8))
tag(ax_sto, 19.31, '19.31', 'black')
tag(ax_sto, 12.75, '12.75', '#E01010')

# ---- ADX ----
style(ax_adx, (5.7, 59.6), [50, 40, 30, 20, 10], ['50', '40', '30', '20', '10'], [10, 20, 30, 40, 50],
      [15, 25, 35, 45, 55])
for pts, col, lw in ((pdi_pts, C_PDI, 0.9), (mdi_pts, C_MDI, 0.9), (adx_pts, 'black', 1.5)):
    ax_, ay_ = xy(pts)
    ax_adx.plot(ax_, ay_, color=col, lw=lw, zorder=3 if col == 'black' else 2)
text_row(ax_adx, [('━', 'black', TITLE_FS, 'normal', 'DejaVu Sans'),
                  ('ADX(14) 14.21 ', 'black', TITLE_FS, 'normal', 'DejaVu Sans'),
                  ('+DI 20.56 ', C_PDI, TITLE_FS, 'normal', 'DejaVu Sans'),
                  ('-DI 22.13', C_MDI, TITLE_FS, 'normal', 'DejaVu Sans')],
         (0, 1), 'axes fraction', offset=(4, -8))
tag(ax_adx, 20.56, '20.56', C_PDI)
tag(ax_adx, 22.13, '22.13', C_MDI)
tag(ax_adx, 14.21, '14.21', 'black')
day_axis(ax_adx)

# ---- header ----
LS = 'Liberation Sans'
text_row(fig, [('$VIX', 'black', 10.5, 'bold', LS),
               (' Volatility Index - New Methodology', 'black', 7.6, 'normal', LS),
               ('  INDX', 'black', 6.5, 'normal', LS)],
         (16, 1200 - 10), 'figure pixels', align=(0, 0.5))
fig.text(16 / 1075, 1 - 23 / 1200, '24-Feb-2014', fontsize=7.5, family=LS, ha='left', va='center')
fig.text(1020 / 1075, 1 - 10 / 1200, '© StockCharts.com', fontsize=7.5, family=LS, color='#555555',
         ha='right', va='center')
text_row(fig, [('Open', 'black', 7.8, 'bold', LS), (' 14.83  ', 'black', 7.8, 'normal', LS),
               ('High', 'black', 7.8, 'bold', LS), (' 14.83  ', 'black', 7.8, 'normal', LS),
               ('Low', 'black', 7.8, 'bold', LS), (' 13.97  ', 'black', 7.8, 'normal', LS),
               ('Close', 'black', 7.8, 'bold', LS), (' 14.23  ', 'black', 7.8, 'normal', LS),
               ('Chg', 'black', 7.8, 'bold', LS), (' -0.45 (-3.07%)', 'black', 7.8, 'normal', LS)],
         (1021, 1200 - 23), 'figure pixels', align=(1, 0.5))
fig.text(1027 / 1075, 1 - 23 / 1200, '▼', fontsize=5, color=RED, ha='center', va='center')

fig.savefig('out.png', dpi=100)
